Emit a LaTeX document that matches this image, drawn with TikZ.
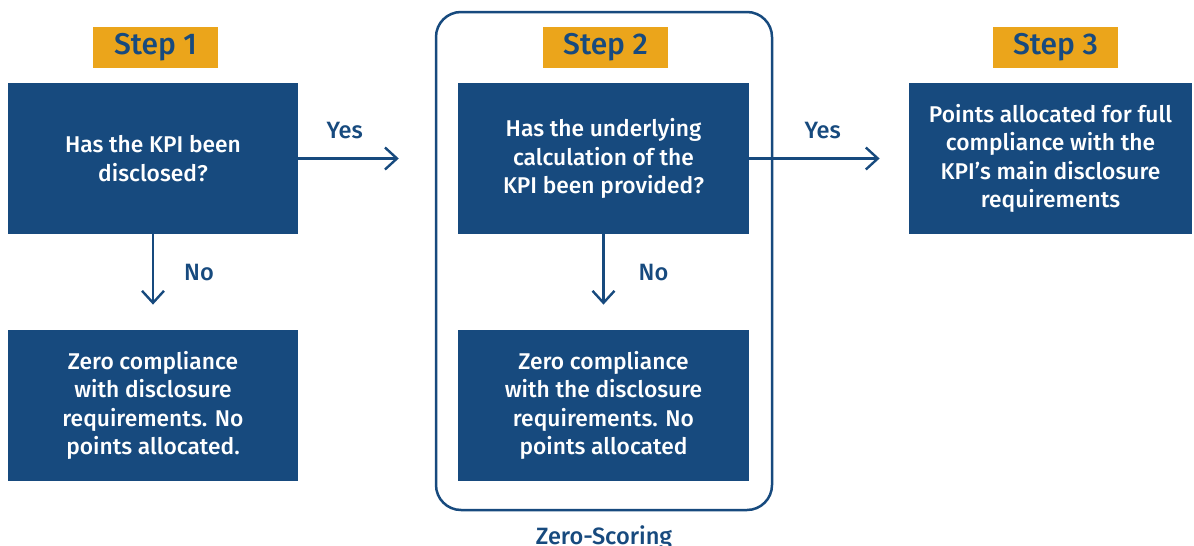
\documentclass[tikz,border=0pt]{standalone}
\usepackage{fontspec}
\setmainfont{Fira Sans}[BoldFont={Fira Sans Medium}]
\usetikzlibrary{arrows.meta, positioning, calc}
\definecolor{cbox} {RGB}{ 23,  74, 126}
\definecolor{cstep}{RGB}{235, 165,  27}
\tikzset{
  qbox/.style    = {rectangle, fill=cbox, text=white, align=center,
                    font=\fontsize{11.4}{14.25}\selectfont\bfseries,
                    minimum width=145pt, minimum height=75.5pt, inner sep=0pt},
  steplbl/.style = {rectangle, fill=cstep, text=cbox, inner sep=0pt,
                    font=\fontsize{15}{18}\selectfont\bfseries,
                    minimum width=62.5pt, minimum height=20.5pt},
  lbl/.style     = {text=cbox, inner sep=0pt,
                    font=\fontsize{11.8}{14.25}\selectfont\bfseries},
  flow/.style    = {draw=cbox, line width=1.2pt,
                    -{Straight Barb[length=6pt, width=11pt, line width=1.2pt]}},
}

\begin{document}
\begin{tikzpicture}[x=0.5pt, y=-0.5pt]
\useasboundingbox (0,0) rectangle (1194,546);

% ── Zero-scoring frame ──────────────────────────────────────────────────────
\node[draw=cbox, line width=1.25pt, rounded corners=12.5pt,
      minimum width=168pt, minimum height=249pt] (frame) at (604,261) {};
\node[lbl, anchor=base] (zs) at ($(frame.south)+(0,33)$) {Zero-Scoring};

% ── Step labels ─────────────────────────────────────────────────────────────
\node[steplbl] (s1) at (155.5,47.5)  {Step 1};
\node[steplbl] (s2) at (605.5,47.5)  {Step 2};
\node[steplbl] (s3) at (1055.5,47.5) {Step 3};

% ── Question / outcome boxes ────────────────────────────────────────────────
\node[qbox] (q1) at (153,158.5) {Has the KPI been\\disclosed?};
\node[qbox] (z1) at (153,405.5)
  {Zero compliance\\with disclosure\\requirements. No\\points allocated.};
\node[qbox, minimum width=145.5pt] (q2) at (603.5,158.5)
  {Has the underlying\\calculation of the\\KPI been provided?};
\node[qbox, minimum width=145.5pt] (z2) at (603.5,405.5)
  {Zero compliance\\with the disclosure\\requirements. No\\points allocated};
\node[qbox, minimum width=141.5pt] (ok) at (1050.5,158.5)
  {Points allocated for full\\compliance with the\\KPI’s main disclosure\\requirements};

% ── Yes arrows ──────────────────────────────────────────────────────────────
\draw[flow, shorten >=18pt] (q1.east) -- (q1.east -| frame.west)
  node[lbl, pos=0.34, anchor=base, yshift=10pt] {Yes};
\draw[flow, shorten >=14.5pt] (q2.east) -- (ok.west)
  node[lbl, pos=0.46, anchor=base, yshift=10pt] {Yes};

% ── No arrows ───────────────────────────────────────────────────────────────
\draw[flow, shorten >=12.5pt] (q1.south) -- (z1.north)
  node[lbl, pos=0.48, anchor=base west, xshift=15pt] {No};
\draw[flow, shorten >=12.5pt] (q2.south) -- (z2.north)
  node[lbl, pos=0.48, anchor=base west, xshift=17pt] {No};

\end{tikzpicture}
\end{document}
